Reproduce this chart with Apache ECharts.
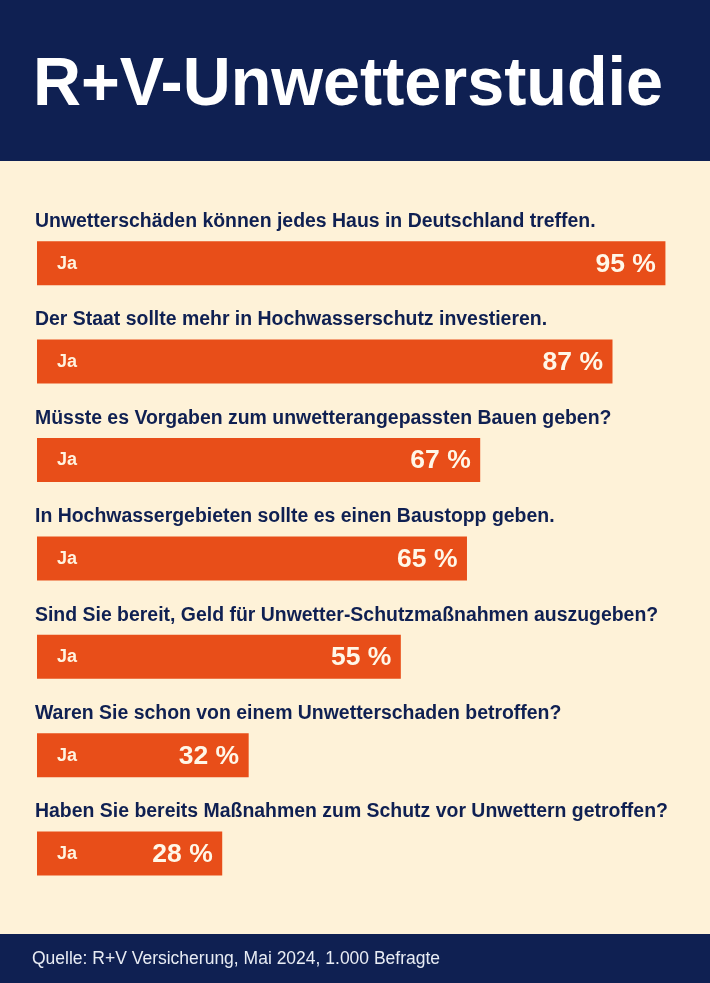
<!DOCTYPE html>
<html lang="de">
<head>
<meta charset="utf-8">
<title>R+V-Unwetterstudie</title>
<style>
  html, body { margin: 0; padding: 0; background: #fef2d8; }
  #chart { width: 710px; height: 983px; }
</style>
<script src="https://cdn.jsdelivr.net/npm/echarts@6/dist/echarts.min.js"></script>
</head>
<body>
<div id="chart"></div>
<script>
const questions = [
  'Unwetterschäden können jedes Haus in Deutschland treffen.',
  'Der Staat sollte mehr in Hochwasserschutz investieren.',
  'Müsste es Vorgaben zum unwetterangepassten Bauen geben?',
  'In Hochwassergebieten sollte es einen Baustopp geben.',
  'Sind Sie bereit, Geld für Unwetter-Schutzmaßnahmen auszugeben?',
  'Waren Sie schon von einem Unwetterschaden betroffen?',
  'Haben Sie bereits Maßnahmen zum Schutz vor Unwettern getroffen?'
];
const yesShare = [95, 87, 67, 65, 55, 32, 28];
const answerLabel = 'Ja';
const titleText = 'R+V-Unwetterstudie';
const sourceText = 'Quelle: R+V Versicherung, Mai 2024, 1.000 Befragte';

const NAVY = '#0f2052';
const CREAM = '#fef2d8';
const ORANGE = '#e84e19';
const FONT = '"Liberation Sans", Arial, sans-serif';

const chart = echarts.init(document.getElementById('chart'), null, { renderer: 'canvas' });

chart.setOption({
  animation: false,
  backgroundColor: CREAM,
  grid: { left: 37, top: 214, width: 661.5, height: 688.8 },
  xAxis: { type: 'value', min: 0, max: 100, show: false },
  yAxis: { type: 'category', inverse: true, data: questions, show: false },
  graphic: [
    { type: 'rect', shape: { x: 0, y: 0, width: 710, height: 161 }, style: { fill: NAVY }, z: 0 },
    { type: 'rect', shape: { x: 0, y: 934, width: 710, height: 49 }, style: { fill: NAVY }, z: 0 },
    {
      type: 'text', x: 33, y: 52, scaleX: 0.978, z: 5,
      style: { text: titleText, fill: '#ffffff', font: 'bold 68px ' + FONT }
    },
    {
      type: 'text', left: 32, top: 950, z: 5,
      style: { text: sourceText, fill: '#e8ecf4', font: '17.5px ' + FONT }
    }
  ],
  series: [
    {
      // the bars, with the share at the right end
      type: 'bar',
      data: yesShare,
      barWidth: 44,
      barGap: '-100%',
      itemStyle: { color: ORANGE },
      label: {
        show: true,
        position: 'insideRight',
        distance: 9.5,
        formatter: '{c} %',
        color: '#fff7e8',
        fontFamily: FONT,
        fontWeight: 'bold',
        fontSize: 26.5,
        offset: [0, 1]
      },
      silent: true
    },
    {
      // "Ja" at the left end of the same bars
      type: 'bar',
      data: yesShare,
      barWidth: 44,
      itemStyle: { color: 'transparent' },
      label: {
        show: true,
        position: [20, 13.5],
        formatter: answerLabel,
        color: '#fff3df',
        fontFamily: FONT,
        fontWeight: 'bold',
        fontSize: 18
      },
      silent: true
    },
    {
      // the question above each bar
      type: 'bar',
      data: yesShare,
      barWidth: 44,
      itemStyle: { color: 'transparent' },
      label: {
        show: true,
        position: [-2, -29],
        formatter: (p) => p.name,
        color: NAVY,
        fontFamily: FONT,
        fontWeight: 'bold',
        fontSize: 19.45
      },
      silent: true
    }
  ]
});
</script>
</body>
</html>
